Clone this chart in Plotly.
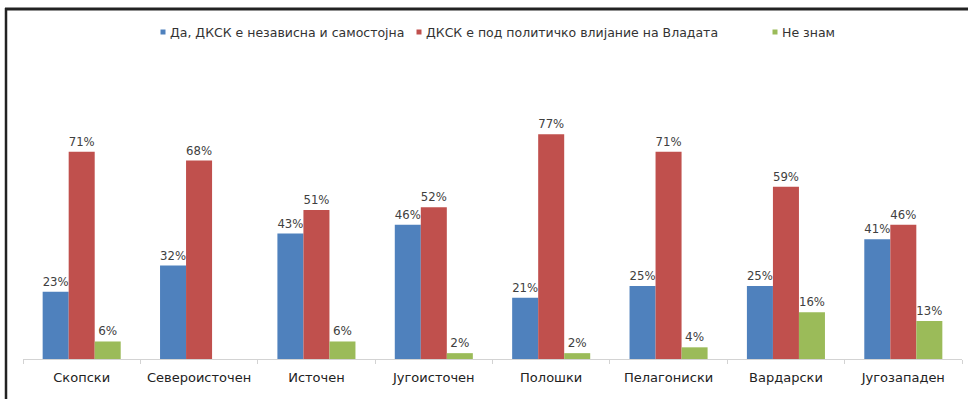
import plotly.graph_objects as go

regions = ["Скопски", "Североисточен", "Источен", "Југоисточен",
           "Полошки", "Пелагониски", "Вардарски", "Југозападен"]
independent = [23, 32, 43, 46, 21, 25, 25, 41]
influenced = [71, 68, 51, 52, 77, 71, 59, 46]
dont_know = [6, None, 6, 2, 2, 4, 16, 13]

series_names = ["Да, ДКСК е независна и самостојна",
                "ДКСК е под политичко влијание на Владата",
                "Не знам"]
series_values = [independent, influenced, dont_know]
colors = ["#4F81BD", "#C0504D", "#9BBB59"]

FONT = "DejaVu Sans, Arial, sans-serif"

fig = go.Figure()
for name, vals, col in zip(series_names, series_values, colors):
    fig.add_trace(go.Bar(
        x=regions, y=vals, name=name, marker_color=col,
        marker_line_width=0,
        text=[f"{v}%" if v is not None else "" for v in vals],
        textposition="outside", cliponaxis=False,
        textfont=dict(family=FONT, size=12, color="#404040"),
        showlegend=False, hoverinfo="skip",
    ))

L, R, T, B = 23, 6, 50, 40
W, H = 968, 399
pw, ph = W - L - R, H - T - B

def px_x(px):
    return (px - L) / pw

def px_y(py):
    return (H - B - py) / ph

# legend row: small square swatch followed by the series name
legend_marker_x = [163, 419, 775]
legend_y = 32
shapes = []
annotations = []
for name, col, mx in zip(series_names, colors, legend_marker_x):
    shapes.append(dict(type="rect", xref="paper", yref="paper",
                       x0=px_x(mx - 2.5), x1=px_x(mx + 2.5),
                       y0=px_y(legend_y + 2.5), y1=px_y(legend_y - 2.5),
                       fillcolor=col, line_width=0))
    annotations.append(dict(text=name, xref="paper", yref="paper",
                            x=px_x(mx + 5), y=px_y(legend_y),
                            xanchor="left", yanchor="middle",
                            showarrow=False,
                            font=dict(family=FONT, size=12.5, color="#333333")))

# frame edges (top and left)
shapes += [
    dict(type="line", xref="paper", yref="paper",
         x0=px_x(5), x1=px_x(968), y0=px_y(9), y1=px_y(9),
         line=dict(color="#222222", width=3)),
    dict(type="line", xref="paper", yref="paper",
         x0=px_x(6), x1=px_x(6), y0=px_y(8), y1=px_y(399),
         line=dict(color="#222222", width=2.5)),
]

fig.update_layout(
    width=W, height=H,
    margin=dict(l=L, r=R, t=T, b=B),
    paper_bgcolor="white", plot_bgcolor="white",
    barmode="group", bargap=0.335, bargroupgap=0,
    font=dict(family=FONT),
    showlegend=False,
    xaxis=dict(showline=True, linecolor="#D3D3D3", linewidth=1,
               ticks="outside", tickson="boundaries", ticklen=4,
               tickcolor="#D3D3D3", ticklabelstandoff=6,
               tickfont=dict(family=FONT, size=13, color="#222222"),
               showgrid=False),
    yaxis=dict(range=[0, (H - B - T) / 2.92], visible=False,
               showgrid=False, zeroline=False),
    shapes=shapes,
    annotations=annotations,
)

# keep the page itself free of scrollbars
page_css = ("document.documentElement.style.overflow='hidden';"
            "document.body.style.overflow='hidden';"
            "document.body.style.margin='0';")

fig.write_html("out.html", config={"displayModeBar": False},
               post_script=page_css)
